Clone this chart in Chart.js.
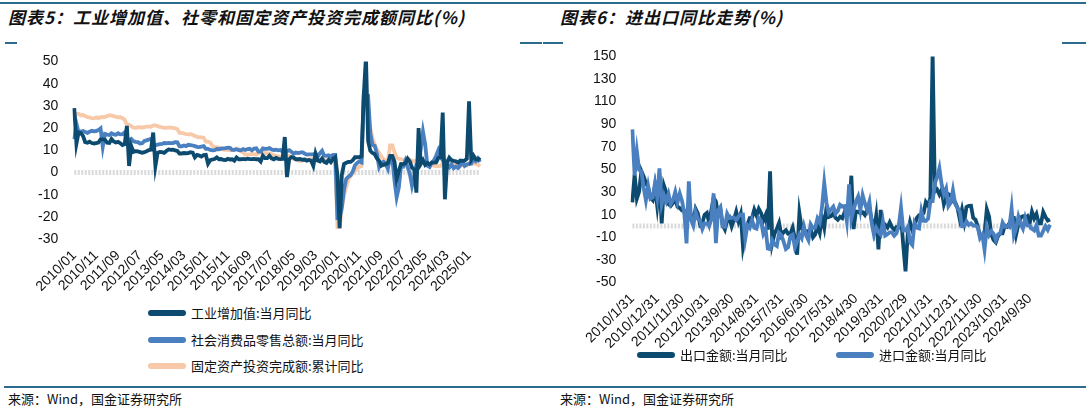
<!DOCTYPE html>
<html>
<head>
<meta charset="utf-8">
<script src="https://cdn.jsdelivr.net/npm/chart.js@4"></script>
<style>
  body { margin: 0; width: 1086px; height: 412px; background: #fff; position: relative; overflow: hidden;
         font-family: "Noto Sans CJK SC", sans-serif; }
  .abs { position: absolute; }
  .title { font-size: 17px; font-weight: bold; font-style: italic; color: #111; top: 4px; letter-spacing: 1px; }
  .rule { background: #2c6b8e; height: 2px; }
  .leg { font-size: 13px; color: #111; display: flex; align-items: center; }
  .sw { width: 38px; height: 6px; border-radius: 3px; margin-right: 5px; }
  .src { font-size: 13px; color: #111; top: 389px; }
</style>
</head>
<body>
<div class="abs rule" style="left:0;top:2px;width:1086px;"></div>
<div class="abs title" style="left:8px;">图表5：工业增加值、社零和固定资产投资完成额同比(%)</div>
<div class="abs title" style="left:560px;">图表6：进出口同比走势(%)</div>
<div class="abs rule" style="left:5px;top:42px;width:12px;"></div>
<div class="abs rule" style="left:520px;top:42px;width:22px;"></div>
<div class="abs rule" style="left:543px;top:42px;width:20px;"></div>
<div class="abs rule" style="left:1062px;top:42px;width:24px;"></div>

<div class="abs" style="left:0;top:45px;width:500px;height:250px;"><canvas id="left"></canvas></div>
<div class="abs" style="left:555px;top:40px;width:520px;height:312px;"><canvas id="right"></canvas></div>

<div class="abs leg" style="left:148px;top:303px;"><div class="sw" style="background:#0d4a70"></div>工业增加值:当月同比</div>
<div class="abs leg" style="left:148px;top:330px;"><div class="sw" style="background:#4a80c0"></div>社会消费品零售总额:当月同比</div>
<div class="abs leg" style="left:148px;top:356px;"><div class="sw" style="background:#f7c9a8"></div>固定资产投资完成额:累计同比</div>
<div class="abs leg" style="left:637px;top:345px;"><div class="sw" style="background:#0d4a70"></div>出口金额:当月同比</div>
<div class="abs leg" style="left:836px;top:345px;"><div class="sw" style="background:#4a80c0"></div>进口金额:当月同比</div>

<div class="abs rule" style="left:4px;top:386px;width:1082px;"></div>
<div class="abs src" style="left:8px;">来源：Wind，国金证券研究所</div>
<div class="abs src" style="left:560px;">来源：Wind，国金证券研究所</div>

<script>
const iva = [
  29, 13, 18.1, 17.8, 16.5, 13.7, 13.4, 13.9, 13.3, 13.1, 13.3, 13.5,
  14.9, 14.9, 14.8, 13.4, 13.3, 15.1, 14, 13.5, 13.8, 13.2, 12.4, 12.8,
  21, 3, 11.9, 9.3, 9.6, 9.5, 9.2, 8.9, 9.2, 9.6, 10.1, 10.3,
  18, 3, 8.9, 9.3, 9.2, 8.9, 9.7, 10.4, 10.2, 10.3, 10, 9.7,
  8.6, 8.6, 8.8, 8.7, 8.8, 9.2, 9, 6.9, 8, 7.7, 7.2, 7.9,
  8, 4, 5.6, 5.9, 6.1, 6.8, 6, 6.1, 5.7, 5.6, 6.2, 5.9,
  6, 5.4, 6.8, 6, 6, 6.2, 6, 6.3, 6.1, 6.1, 6.2, 6,
  6, 5, 7.6, 6.5, 6.5, 7.6, 6.4, 6, 6.6, 6.2, 6.1, 6.2,
  16, -2, 6, 7, 6.8, 6, 6, 6.1, 5.8, 5.9, 5.4, 5.7,
  5.3, 3, 8.5, 5.4, 5, 6.3, 4.8, 4.4, 5.8, 4.7, 6.2, 6.9,
  -1, -25, -1.1, 3.9, 4.4, 4.8, 4.8, 5.6, 6.9, 6.9, 7, 7.3,
  35, 52, 14.1, 9.8, 8.8, 8.3, 6.4, 5.3, 3.1, 3.5, 3.8, 4.3,
  7.5, 7.5, 5, -2.9, 0.7, 3.9, 3.8, 4.2, 6.3, 5, 2.2, 1.3,
  -9, 20, 3.9, 5.6, 3.5, 4.4, 3.7, 4.5, 4.5, 4.6, 6.6, 6.8,
  27, -12, 4.5, 6.7, 5.6, 5.3, 5.1, 4.5, 5.4, 5.3, 5.4, 6.2,
  32, 5.9, 7.7, 6.1, 5.8, 6.8
];
const retail = [
  15, 22, 18, 18.5, 18.7, 18.3, 17.9, 18.4, 18.8, 18.6, 18.7, 19.1,
  19.9, 11.6, 17.4, 17.1, 16.9, 17.7, 17.2, 17, 17.7, 17.2, 17.3, 18.1,
  14.7, 14.7, 15.2, 14.1, 13.8, 13.7, 13.1, 13.2, 14.2, 14.5, 14.9, 15.2,
  12.3, 12.3, 12.6, 12.8, 12.9, 13.3, 13.2, 13.4, 13.3, 13.3, 13.7, 13.6,
  11.8, 11.8, 12.2, 11.9, 12.5, 12.4, 12.2, 11.9, 11.6, 11.5, 11.7, 11.9,
  10.7, 10.7, 10.2, 10, 10.1, 10.6, 10.5, 10.8, 10.9, 11, 11.2, 11.1,
  10.2, 10.2, 10.5, 10.1, 10, 10.6, 10.2, 10.6, 10.7, 10, 10.8, 10.9,
  9.5, 9.5, 10.9, 10.7, 10.7, 11, 10.4, 10.1, 10.3, 10, 10.2, 9.4,
  9.7, 9.7, 10.1, 9.4, 8.5, 9, 8.8, 9, 9.2, 8.6, 8.1, 8.2,
  8.2, 8.2, 8.7, 7.2, 8.6, 9.8, 7.6, 7.5, 7.8, 7.2, 8, 8,
  -20.5, -20.5, -15.8, -7.5, -2.8, -1.8, -1.1, 0.5, 3.3, 4.3, 5, 4.6,
  33.8, 33.8, 34.2, 17.7, 12.4, 12.1, 8.5, 2.5, 4.4, 4.9, 3.9, 1.7,
  6.7, 6.7, -3.5, -11.1, -6.7, 3.1, 2.7, 5.4, 2.5, -0.5, -5.9, -1.8,
  3.5, 3.5, 10.6, 18.4, 12.7, 3.1, 2.5, 4.6, 5.5, 7.6, 10.1, 7.4,
  5.5, 5.5, 3.1, 2.3, 3.7, 2, 2.7, 2.1, 3.2, 4.8, 3, 3.7,
  4, 4, 5.9, 5.1, 6.4, 4.8
];
const fai = [
  26.5, 26.5, 26.4, 25.8, 25.9, 25.5, 24.9, 24.8, 24.5, 24.4, 24.9, 24.5,
  24.9, 24.9, 25, 25.4, 25.8, 25.6, 25.4, 25, 24.9, 24.9, 24.5, 23.8,
  21.5, 21.5, 20.9, 20.2, 20.1, 20.4, 20.4, 20.2, 20.5, 20.7, 20.7, 20.6,
  21.2, 21.2, 20.9, 20.6, 20.4, 20.1, 20.1, 20.3, 20.2, 20.1, 19.9, 19.6,
  17.9, 17.9, 17.6, 17.3, 17.2, 17.3, 17, 16.5, 16.1, 15.9, 15.8, 15.7,
  13.9, 13.9, 13.5, 12, 11.4, 11.4, 11.2, 10.9, 10.3, 10.2, 10.2, 10,
  10.2, 10.2, 10.7, 10.5, 9.6, 9, 8.1, 8.1, 8.2, 8.3, 8.3, 8.1,
  8.9, 8.9, 9.2, 8.9, 8.6, 8.6, 8.3, 7.8, 7.5, 7.3, 7.2, 7.2,
  7.9, 7.9, 7.5, 7, 6.1, 6, 5.5, 5.3, 5.4, 5.7, 5.9, 5.9,
  6.1, 6.1, 6.3, 6.1, 5.6, 5.8, 5.7, 5.5, 5.4, 5.2, 5.2, 5.4,
  -24.5, -24.5, -16.1, -10.3, -6.3, -3.1, -1.6, -0.3, 0.8, 1.8, 2.6, 2.9,
  35, 35, 25.6, 19.9, 15.4, 12.6, 10.3, 8.9, 7.3, 6.1, 5.2, 4.9,
  12.2, 12.2, 9.3, 6.8, 6.2, 6.1, 5.7, 5.8, 5.9, 5.8, 5.3, 5.1,
  5.5, 5.5, 5.1, 4.7, 4, 3.8, 3.4, 3.2, 3.1, 2.9, 2.9, 3,
  4.2, 4.2, 4.5, 4.2, 4, 3.9, 3.6, 3.4, 3.4, 3.4, 3.3, 3.2,
  4.1, 4.1, 4.2, 4, 3.7, 2.8
];
const exportsYoy = [
  21, 45.7, 24.3, 30.5, 48.5, 43.9, 38.1, 34.4, 25.1, 22.9, 34.9, 17.9,
  37.7, 2.4, 35.8, 29.9, 19.4, 17.9, 20.4, 24.5, 17.1, 15.9, 13.8, 13.4,
  -0.5, 18.4, 8.9, 4.9, 15.3, 11.3, 1, 2.7, 9.9, 11.6, 2.9, 14.1,
  25, 21.8, 10, 14.7, 1, -3.1, 5.1, 7.2, -0.3, 5.6, 12.7, 4.3,
  10.6, -18.1, -6.6, 0.9, 7, 7.2, 14.5, 9.4, 15.3, 11.6, 4.7, 9.7,
  -3.3, 48.3, -15, -6.4, -2.5, 2.8, -8.3, -5.5, -3.7, -6.9, -6.8, -1.4,
  -11.2, -25.4, 11.5, -1.8, -4.1, -4.8, -4.4, -2.8, -10, -7.3, 0.1, -6.1,
  7.9, -1.3, 16.4, 8, 8.7, 11.3, 7.2, 5.5, 8.1, 6.9, 12.3, 10.9,
  11.1, 44.5, -2.7, 12.9, 12.6, 11.3, 12.2, 9.8, 14.5, 15.6, 5.4, -4.4,
  9.1, -20.7, 14.2, -2.7, 1.1, -1.3, 3.3, -1, -3.2, -0.9, -1.1, 7.6,
  -17, -40, -6.6, 3.5, -3.3, 0.5, 7.2, 9.5, 9.9, 11.4, 21.1, 18.1,
  25, 154, 30.6, 32.3, 27.9, 32.2, 19.3, 25.6, 28.1, 27.1, 22, 20.9,
  16.3, 6.3, 14.7, 3.9, 16.9, 17.9, 18, 7.1, 5.7, -0.3, -8.7, -9.9,
  -6.8, 14.8, 8.5, -7.5, -12.4, -14.5, -8.8, -6.2, -6.4, 0.5, -0.6, 2.3,
  7.1, 7.1, -7.5, 1.5, 7.6, 8.6, 7, 8.7, 2.4, 12.7, 6.7, 10.7,
  2.3, 2.3, 12.4, 8.1, 4.8, 5.8
];
const importsYoy = [
  85.5, 44.7, 66, 49.7, 48.3, 34.1, 22.7, 35.2, 24.1, 25.3, 37.7, 25.6,
  51, 19.4, 27.3, 21.8, 28.4, 19.3, 22.9, 30.2, 20.9, 28.7, 22.1, 11.8,
  -15.3, 39.6, 5.3, 0.3, 12.7, 6.3, 4.7, -2.6, 2.4, 2.4, 0, 6,
  28.8, -15.2, 14.1, 16.8, -0.3, -0.7, 10.9, 7, 7.4, 7.6, 5.3, 8.3,
  10, 10.1, -11.3, 0.8, -1.6, 5.5, -1.6, -2.4, 7, 4.6, -6.7, -2.4,
  -19.9, -20.5, -12.7, -16.2, -17.6, -6.1, -8.1, -13.8, -20.4, -18.8, -8.7, -7.6,
  -18.8, -13.8, -7.6, -10.9, -0.4, -8.4, -12.5, 1.5, -1.9, -1.4, 6.7, 3.1,
  16.7, 38.1, 20.3, 11.9, 14.8, 17.2, 11, 13.3, 18.7, 17.2, 17.7, 4.5,
  36.9, 6.3, 14.4, 21.5, 26, 14.1, 27.3, 20, 14.3, 21.4, 3, -7.6,
  -1.5, -5.2, -7.6, 4, -8.5, -7.3, -5.6, -5.6, -8.5, -6.4, 0.3, 16.3,
  -4, -4, -0.9, -14.2, -16.7, 2.7, -1.4, -2.1, 13.2, 4.7, 4.5, 6.5,
  22, 22, 38.1, 43.1, 51.1, 36.7, 28.1, 33.1, 17.6, 20.6, 31.7, 19.5,
  15.9, 12.8, -0.1, 0, 4.1, 1, 2.3, 0.3, 0.3, -0.7, -10.6, -7.5,
  -21, -1.4, -7.9, -4.5, -6.8, -12.4, -7.3, -6.2, 3, -0.6, 0.2, -0.9,
  15.5, -8.2, -1.9, 8.4, 1.8, -2.3, 7.2, 0.5, 0.3, -2.3, -3.9, 1,
  -8.4, -8.4, -4.3, -0.2, -3.4, 1.1
];
const leftTicks = [50, 40, 30, 20, 10, 0, -10, -20, -30];
const rightTicks = [150, 130, 110, 90, 70, 50, 30, 10, -10, -30, -50];

// month labels: "2010/01" on the left, month-end dates on the right
const monthsLeft = iva.map((_, i) => {
  const y = 2010 + Math.floor(i / 12), m = (i % 12) + 1;
  return `${y}/${String(m).padStart(2, "0")}`;
});
const monthsRight = exportsYoy.map((_, i) => {
  const y = 2010 + Math.floor(i / 12), m = (i % 12) + 1;
  return `${y}/${m}/${new Date(y, m, 0).getDate()}`;
});

const DARK = "#0d4a70", MID = "#4a80c0", PEACH = "#f7c9a8";
const tickFont = { family: "Liberation Sans, Arial", size: 14 };

function line(data, color, width) {
  return { data, borderColor: color, borderWidth: width, pointRadius: 0, tension: 0, fill: false };
}
function zeroLine(n) {
  return { data: new Array(n).fill(0), borderColor: "#d9d9d9", borderWidth: 5,
           borderDash: [2, 1.5], pointRadius: 0, order: 10 };
}

function makeChart(id, labels, sets, ticks, every, pad) {
  new Chart(document.getElementById(id), {
    type: "line",
    data: { labels, datasets: sets },
    options: {
      animation: false,
      responsive: true,
      maintainAspectRatio: false,
      layout: { padding: pad },
      plugins: { legend: { display: false }, tooltip: { enabled: false } },
      scales: {
        x: {
          grid: { display: false },
          border: { display: false },
          ticks: {
            autoSkip: false, maxRotation: 45, minRotation: 45, color: "#111", font: tickFont, padding: 0,
            callback: (v, i) => (i % every === 0 ? labels[i] : null),
          },
        },
        y: {
          min: ticks[ticks.length - 1],
          max: ticks[0],
          afterBuildTicks: (ax) => { ax.ticks = ticks.map((value) => ({ value })); },
          grid: { display: false },
          border: { display: false },
          ticks: { color: "#111", font: tickFont, padding: 8 },
        },
      },
    },
  });
}

makeChart("left", monthsLeft, [
  line(iva, DARK, 3.8),
  line(retail, MID, 3.8),
  line(fai, PEACH, 3.8),
  zeroLine(iva.length),
], leftTicks, 10, { left: 30, right: 20, top: 16, bottom: 0 });

makeChart("right", monthsRight, [
  line(importsYoy, MID, 3.8),
  line(exportsYoy, DARK, 3.8),
  zeroLine(exportsYoy.length),
], rightTicks, 11, { left: 30, right: 25, top: 12, bottom: 0 });
</script>
</body>
</html>
